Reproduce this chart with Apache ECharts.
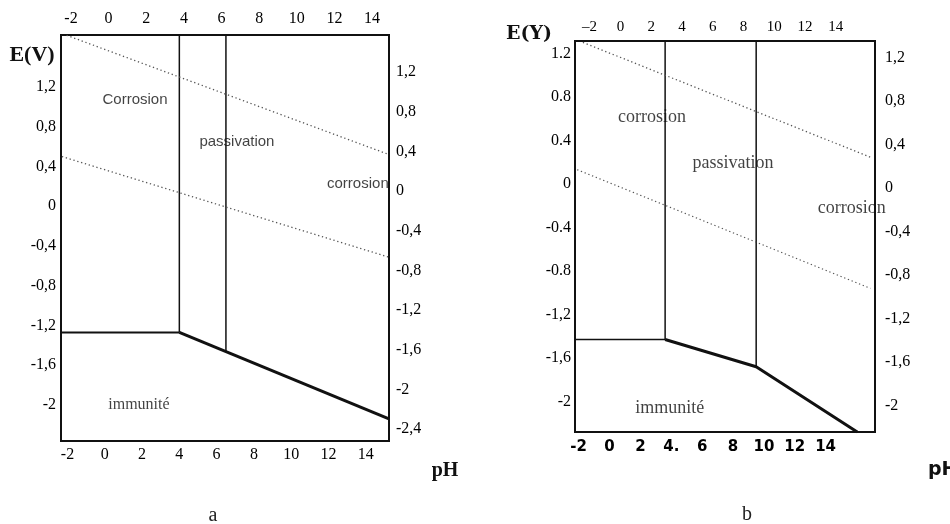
<!DOCTYPE html>
<html>
<head>
<meta charset="utf-8">
<script src="https://cdn.jsdelivr.net/npm/echarts@6/dist/echarts.min.js"></script>
<style>
  html, body { margin: 0; padding: 0; background: #fff; }
  #chart { width: 950px; height: 524px; }
</style>
</head>
<body>
<div id="chart"></div>
<script>
// ---- diagram a ----
const aTicksX = [-2, 0, 2, 4, 6, 8, 10, 12, 14];
const aTicksYLeft = [1.2, 0.8, 0.4, 0, -0.4, -0.8, -1.2, -1.6, -2];
const aTicksYRight = [1.2, 0.8, 0.4, 0, -0.4, -0.8, -1.2, -1.6, -2, -2.4];
const aHoriz = [[-2.35, -1.27], [4.0, -1.27]];
const aDiag = [[4.0, -1.27], [15.25, -2.14]];
const aVert1 = [[4.0, 1.72], [4.0, -1.27]];
const aVert2 = [[6.5, 1.72], [6.5, -1.46]];
const aDotUpper = [[-2.05, 1.72], [15.25, 0.52]];
const aDotLower = [[-2.3, 0.50], [15.2, -0.51]];
const aRegions = [
  { name: 'Corrosion', value: [1.62, 1.07], font: 'Liberation Sans', size: 15 },
  { name: 'passivation', value: [7.09, 0.65], font: 'Liberation Sans', size: 15 },
  { name: 'corrosion', value: [13.58, 0.23], font: 'Liberation Sans', size: 15 },
  { name: 'immunité', value: [1.83, -2.0], font: 'Liberation Serif', size: 16 }
];

// ---- diagram b ----
const bTicksX = [-2, 0, 2, 4, 6, 8, 10, 12, 14];
const bTopText = ['–2', '0', '2', '4', '6', '8', '10', '12', '14'];
const bBottomText = ['-2', '0', '2', '4.', '6', '8', '10', '12', '14'];
const bTicksY = [1.2, 0.8, 0.4, 0, -0.4, -0.8, -1.2, -1.6, -2];
const bLeftText = ['1.2', '0.8', '0.4', '0', '-0.4', '-0.8', '-1,2', '-1,6', '-2'];
const bRightText = ['1,2', '0,8', '0,4', '0', '-0,4', '-0,8', '-1,2', '-1,6', '-2'];
const bHoriz = [[-2.24, -1.43], [3.6, -1.43]];
const bDiag = [[3.6, -1.43], [9.5, -1.68], [16.05, -2.28]];
const bVert1 = [[3.6, 1.31], [3.6, -1.43]];
const bVert2 = [[9.5, 1.31], [9.5, -1.68]];
const bDotUpper = [[-1.73, 1.30], [17.0, 0.24]];
const bDotLower = [[-2.1, 0.13], [16.9, -0.96]];
const bRegions = [
  { name: 'corrosion', value: [2.75, 0.615] },
  { name: 'passivation', value: [8.0, 0.19] },
  { name: 'corrosion', value: [15.7, -0.22] },
  { name: 'immunité', value: [3.9, -2.06] }
];

const chart = echarts.init(document.getElementById('chart'));

const comma = v => String(v).replace('.', ',');
const serif = 'Liberation Serif';

function axis(gridIndex, position, min, max, ticks, fmt, margin, extra) {
  return {
    type: 'value', gridIndex, position, min, max,
    axisLine: { show: false }, axisTick: { show: false }, splitLine: { show: false },
    axisLabel: Object.assign({
      customValues: ticks, formatter: fmt, margin,
      color: '#000', fontFamily: serif, fontSize: 16
    }, extra || {})
  };
}

function line(data, x, y, width, dotted) {
  return {
    type: 'line', data, xAxisIndex: x, yAxisIndex: y,
    showSymbol: false, silent: true, animation: false,
    lineStyle: dotted
      ? { color: '#555', width: 1.3, type: [1.3, 2.7] }
      : { color: '#111', width, type: 'solid' }
  };
}

function regions(items, x, y, font, size) {
  return {
    type: 'scatter', xAxisIndex: x, yAxisIndex: y, symbolSize: 0, silent: true, animation: false,
    data: items.map(r => ({
      value: r.value,
      label: {
        show: true, position: 'inside', formatter: r.name, color: '#111',
        fontFamily: r.font || font, fontSize: r.size || size
      }
    }))
  };
}

const lookup = (vals, texts) => v => {
  const i = vals.findIndex(t => Math.abs(t - v) < 1e-6);
  return i < 0 ? '' : texts[i];
};

chart.setOption({
  backgroundColor: '#fff',
  grid: [
    { left: 61, top: 35, width: 328, height: 406, show: true, borderColor: '#111', borderWidth: 2 },
    { left: 575, top: 41, width: 300, height: 391, show: true, borderColor: '#111', borderWidth: 2 }
  ],
  xAxis: [
    axis(0, 'bottom', -2.35, 15.25, aTicksX, v => String(v), 6),
    axis(0, 'top', -2.53, 14.9, aTicksX, v => String(v), 8),
    axis(1, 'bottom', -2.24, 17.2, bTicksX, lookup(bTicksX, bBottomText), 8,
      { fontFamily: 'DejaVu Sans', fontWeight: 'bold', fontSize: 15 }),
    axis(1, 'top', -2.95, 16.55, bTicksX, lookup(bTicksX, bTopText), 6, { fontSize: 15 })
  ],
  yAxis: [
    axis(0, 'left', -2.362, 1.723, aTicksYLeft, comma, 5),
    axis(0, 'right', -2.52, 1.573, aTicksYRight, comma, 7),
    axis(1, 'left', -2.28, 1.313, bTicksY, lookup(bTicksY, bLeftText), 4),
    axis(1, 'right', -2.24, 1.35, bTicksY, lookup(bTicksY, bRightText), 10)
  ],
  graphic: [
    { type: 'text', x: 32, y: 55, style: { text: 'E(V)', font: 'bold 22px "Liberation Serif"', fill: '#111', align: 'center', verticalAlign: 'middle' } },
    { type: 'text', x: 445, y: 471, style: { text: 'pH', font: 'bold 20px "Liberation Serif"', fill: '#111', align: 'center', verticalAlign: 'middle' } },
    { type: 'text', x: 213, y: 516, style: { text: 'a', font: '20px "Liberation Serif"', fill: '#222', align: 'center', verticalAlign: 'middle' } },
    { type: 'text', x: 529, y: 34, style: { text: 'E(Y)', font: 'bold 19px "DejaVu Serif"', fill: '#111', align: 'center', verticalAlign: 'middle' } },
    { type: 'text', x: 928, y: 470, style: { text: 'pH', font: 'bold 19px "DejaVu Sans"', fill: '#111', align: 'left', verticalAlign: 'middle' } },
    { type: 'text', x: 747, y: 515, style: { text: 'b', font: '20px "Liberation Serif"', fill: '#222', align: 'center', verticalAlign: 'middle' } }
  ],
  series: [
    line(aHoriz, 0, 0, 2),
    line(aDiag, 0, 0, 3),
    line(aVert1, 0, 0, 1.5),
    line(aVert2, 0, 0, 1.5),
    line(aDotUpper, 0, 0, 1, true),
    line(aDotLower, 0, 0, 1, true),
    regions(aRegions, 0, 0),
    line(bHoriz, 2, 2, 1.5),
    line(bDiag, 2, 2, 3),
    line(bVert1, 2, 2, 1.5),
    line(bVert2, 2, 2, 1.5),
    line(bDotUpper, 2, 2, 1, true),
    line(bDotLower, 2, 2, 1, true),
    regions(bRegions, 2, 2, serif, 18)
  ]
});
</script>
</body>
</html>
